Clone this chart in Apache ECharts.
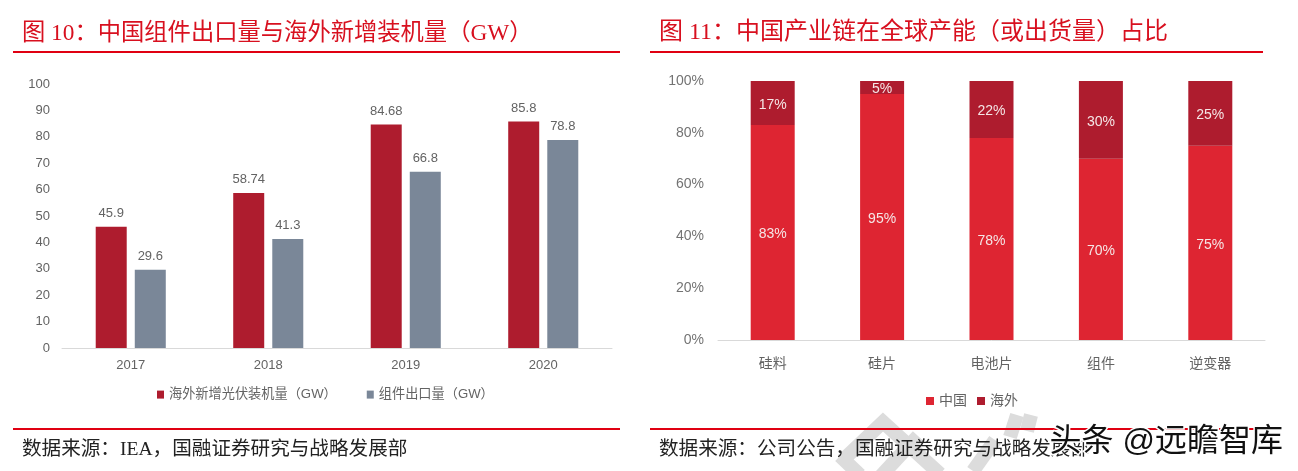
<!DOCTYPE html>
<html>
<head>
<meta charset="utf-8">
<style>
  html, body { margin: 0; padding: 0; background: #fff; }
  #chart { width: 1298px; height: 471px; }
</style>
<script src="https://cdn.jsdelivr.net/npm/echarts@6/dist/echarts.min.js"></script>
</head>
<body>
<div id="chart"></div>
<script>
// 图 10
const years = ["2017", "2018", "2019", "2020"];
const overseasNew = [45.9, 58.74, 84.68, 85.8];
const moduleExport = [29.6, 41.3, 66.8, 78.8];
// 图 11
const chainSteps = ["硅料", "硅片", "电池片", "组件", "逆变器"];
const chinaShare = [83, 95, 78, 70, 75];
const abroadShare = [17, 5, 22, 30, 25];

const RED = "#e00012";
const DARK = "#ae1c2e";
const BRIGHT = "#de2532";
const SLATE = "#7a8798";
const GREY = "#636363";
const SANS = "'Liberation Sans', 'Noto Sans CJK SC', sans-serif";
const SERIF = "'Liberation Serif', 'Noto Sans CJK SC', serif";

function headText(x, y, text, size, color) {
  return { type: "text", left: x, top: y, z: 5, style: { text: text, fontFamily: SERIF, fontSize: size, fill: color } };
}
function rule(x, y, w) {
  return { type: "rect", shape: { x: x, y: y, width: w, height: 2 }, style: { fill: RED }, z: 4 };
}
// 水印底纹
function band(points) {
  return { type: "polyline", shape: { points: points }, style: { stroke: "#dcdcdc", lineWidth: 14, fill: null }, z: 1 };
}

const chart = echarts.init(document.getElementById("chart"));
chart.setOption({
  animation: false,
  backgroundColor: "#fff",
  grid: [
    { left: 62, right: 686, top: 84, bottom: 123 },
    { left: 718, right: 33, top: 81, bottom: 131 },
  ],
  xAxis: [
    {
      type: "category", gridIndex: 0, data: years,
      axisLine: { lineStyle: { color: "#d9d9d9" } }, axisTick: { show: false },
      axisLabel: { color: GREY, fontSize: 13, fontFamily: SANS, margin: 11 },
    },
    {
      type: "category", gridIndex: 1, data: chainSteps,
      axisLine: { lineStyle: { color: "#d9d9d9" } }, axisTick: { show: false },
      axisLabel: { color: GREY, fontSize: 14, fontFamily: SANS, margin: 17 },
    },
  ],
  yAxis: [
    {
      type: "value", gridIndex: 0, min: 0, max: 100, interval: 10,
      axisLine: { show: false }, axisTick: { show: false }, splitLine: { show: false },
      axisLabel: { color: GREY, fontSize: 13, fontFamily: SANS, margin: 12 },
    },
    {
      type: "value", gridIndex: 1, min: 0, max: 100, interval: 20,
      axisLine: { show: false }, axisTick: { show: false }, splitLine: { show: false },
      axisLabel: { color: "#737373", fontSize: 14, fontFamily: SANS, margin: 14, formatter: "{value}%" },
    },
  ],
  legend: [
    {
      data: ["海外新增光伏装机量（GW）", "组件出口量（GW）"], left: 152, top: 383,
      icon: "rect", itemWidth: 7, itemHeight: 8, itemGap: 30,
      textStyle: { color: GREY, fontSize: 13.2, fontFamily: SANS },
    },
    {
      data: ["中国", "海外"], left: 921, top: 389,
      icon: "rect", itemWidth: 8, itemHeight: 8, itemGap: 10,
      textStyle: { color: GREY, fontSize: 14, fontFamily: SANS },
    },
  ],
  series: [
    {
      name: "海外新增光伏装机量（GW）", type: "bar", xAxisIndex: 0, yAxisIndex: 0, data: overseasNew,
      barWidth: 31, barGap: "26%", itemStyle: { color: DARK },
      label: { show: true, position: "top", color: GREY, fontSize: 13, fontFamily: SANS, distance: 7 },
    },
    {
      name: "组件出口量（GW）", type: "bar", xAxisIndex: 0, yAxisIndex: 0, data: moduleExport,
      barWidth: 31, barGap: "26%", itemStyle: { color: SLATE },
      label: { show: true, position: "top", color: GREY, fontSize: 13, fontFamily: SANS, distance: 7 },
    },
    {
      name: "中国", type: "bar", stack: "share", xAxisIndex: 1, yAxisIndex: 1, data: chinaShare,
      barWidth: 44, itemStyle: { color: BRIGHT },
      label: { show: true, position: "inside", color: "#f5e6e6", fontSize: 14, fontFamily: SANS, formatter: "{c}%", offset: [0, 2] },
    },
    {
      name: "海外", type: "bar", stack: "share", xAxisIndex: 1, yAxisIndex: 1, data: abroadShare,
      barWidth: 44, itemStyle: { color: DARK },
      label: { show: true, position: "inside", color: "#f5e6e6", fontSize: 14, fontFamily: SANS, formatter: "{c}%", offset: [0, 2] },
    },
  ],
  graphic: [
    band([[843, 460], [883, 422], [940, 474]]),
    band([[918, 436], [880, 477]]),
    band([[840, 456], [860, 475]]),
    band([[1017, 415], [1010, 437]]),
    band([[1031, 415], [1027, 431]]),
    band([[995, 440], [973, 471]]),
    headText(22, 22, "图 10：中国组件出口量与海外新增装机量（GW）", 23.3, "#d8101f"),
    headText(659, 21, "图 11：中国产业链在全球产能（或出货量）占比", 24, "#d8101f"),
    rule(13, 51, 607),
    rule(650, 51, 613),
    rule(13, 428, 607),
    rule(650, 428, 613),
    headText(22, 440, "数据来源：IEA，国融证券研究与战略发展部", 19.6, "#222"),
    headText(659, 440, "数据来源：公司公告，国融证券研究与战略发展部", 19.6, "#222"),
    {
      type: "text", left: 1048, top: 425, z: 8,
      style: { text: "头条 @远瞻智库", fontFamily: SANS, fontSize: 32, fill: "#111", stroke: "#fff", lineWidth: 3 },
    },
  ],
});
</script>
</body>
</html>
